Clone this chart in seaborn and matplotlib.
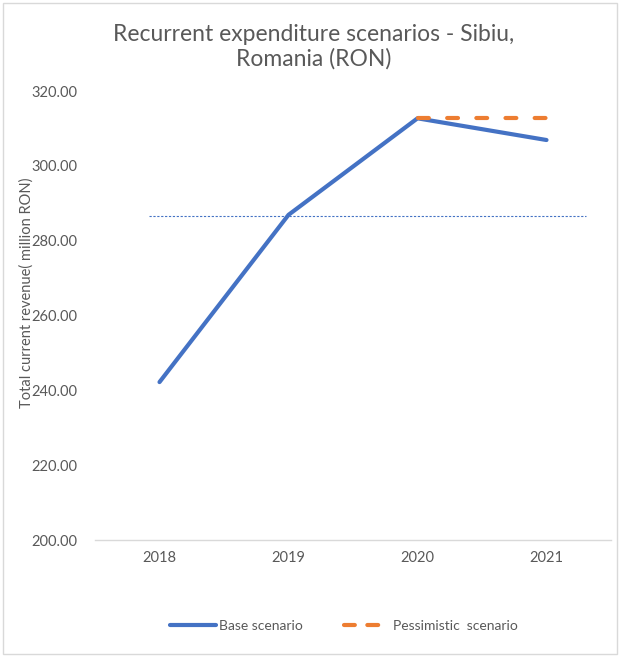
import matplotlib
matplotlib.use("Agg")
import matplotlib.pyplot as plt
import seaborn as sns
import pandas as pd
from matplotlib.lines import Line2D
from matplotlib.patches import Rectangle

# values (million RON)
years = ["2018", "2019", "2020", "2021"]
base_values = [242.2, 286.9, 312.7, 306.9]
pess_years = ["2020", "2021"]
pess_values = [312.8, 312.8]
avg_level = 286.7  # thin dotted reference line
y_ticks = [200, 220, 240, 260, 280, 300, 320]

BLUE = "#4472C4"
ORANGE = "#ED7D31"
GREY = "#595959"

sns.set_theme(style="white")
plt.rcParams["font.family"] = ["Lato", "DejaVu Sans"]

df = pd.DataFrame({
    "year": years + pess_years,
    "value": base_values + pess_values,
    "scenario": ["Base scenario"] * len(years) + ["Pessimistic  scenario"] * len(pess_years),
})

fig = plt.figure(figsize=(6.21, 6.56), dpi=100)
ax = fig.add_axes([95 / 621, 1 - 540 / 656, 516 / 621, 449 / 656])

sns.lineplot(data=df[df.scenario == "Base scenario"], x="year", y="value",
             color=BLUE, linewidth=3, ax=ax, sort=False, legend=False)
sns.lineplot(data=df[df.scenario != "Base scenario"], x="year", y="value",
             color=ORANGE, linewidth=3, ax=ax, sort=False, legend=False)
for ln in ax.lines:
    ln.set_solid_capstyle("round")
ax.lines[1].set_dashes((2.6, 4.4))
ax.lines[1].set_dash_capstyle("round")

# dotted average line
ax.hlines(avg_level, -0.08, 3.31, colors=BLUE, linestyles=(0, (2, 1.5)), linewidth=0.8, zorder=1)

ax.set_xlim(-0.5, 3.5)
ax.set_ylim(200, 320)
ax.set_yticks(y_ticks)
ax.set_yticklabels([f"{v:.2f}" for v in y_ticks])
for s in ["top", "right", "left"]:
    ax.spines[s].set_visible(False)
ax.spines["bottom"].set_color("#D9D9D9")
ax.spines["bottom"].set_linewidth(1)
ax.tick_params(axis="both", length=0, labelsize=10.5, colors=GREY)
ax.tick_params(axis="x", pad=8)
ax.tick_params(axis="y", pad=13)
ax.set_xlabel("")
ax.set_ylabel("")

fig.text(27 / 621, 1 - 293 / 656, "Total current revenue( million RON)", rotation=90,
         ha="center", va="center", fontsize=10.5, color=GREY)
fig.text(314 / 621, 1 - 47 / 656, "Recurrent expenditure scenarios - Sibiu,\nRomania (RON)",
         ha="center", va="center", multialignment="center", fontsize=16.5, color=GREY,
         linespacing=1.2)

handles = [
    Line2D([], [], color=BLUE, linewidth=3, solid_capstyle="round"),
    Line2D([], [], color=ORANGE, linewidth=3, dashes=(2.6, 3.0), dash_capstyle="round"),
]
fig.legend(handles, ["Base scenario", "Pessimistic  scenario"], loc="center",
           bbox_to_anchor=(344 / 621, 1 - 626 / 656), ncol=2, frameon=False,
           fontsize=10, labelcolor=GREY, handlelength=3.3, handletextpad=0.2,
           columnspacing=3.0)

fig.patches.append(Rectangle((3 / 621, 2 / 656), 614 / 621, 651 / 656, transform=fig.transFigure,
                             fill=False, edgecolor="#D9D9D9", linewidth=1))

fig.savefig("out.png", dpi=100, facecolor="white")
